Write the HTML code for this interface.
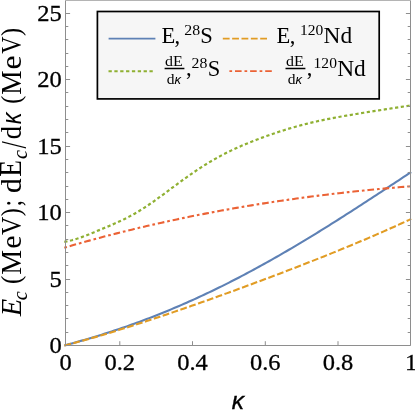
<!DOCTYPE html>
<html><head><meta charset="utf-8"><style>
html,body{margin:0;padding:0;background:#fff;}
body{width:415px;height:410px;overflow:hidden;position:relative;}
svg{position:absolute;left:0;top:0;display:block;will-change:transform;}
text{font-family:"Liberation Serif",serif;fill:#000;}
.sans{font-family:"Liberation Sans",sans-serif;}
</style></head><body>
<svg width="415" height="410" viewBox="0 0 415 410">
<rect x="0" y="0" width="415" height="410" fill="#fff"/>
<g fill="none" stroke-width="2.1" stroke-linecap="butt" stroke-linejoin="round">
<path d="M64.30 345.45 L66.80 344.78 L69.29 344.11 L71.79 343.43 L74.28 342.74 L76.78 342.04 L79.27 341.34 L81.77 340.63 L84.27 339.91 L86.76 339.18 L89.26 338.45 L91.75 337.70 L94.25 336.95 L96.74 336.19 L99.24 335.42 L101.74 334.64 L104.23 333.85 L106.73 333.06 L109.22 332.25 L111.72 331.44 L114.21 330.62 L116.71 329.78 L119.21 328.94 L121.70 328.09 L124.20 327.23 L126.69 326.37 L129.19 325.49 L131.68 324.60 L134.18 323.71 L136.67 322.80 L139.17 321.89 L141.67 320.96 L144.16 320.03 L146.66 319.09 L149.15 318.13 L151.65 317.17 L154.14 316.20 L156.64 315.22 L159.14 314.23 L161.63 313.23 L164.13 312.22 L166.62 311.20 L169.12 310.17 L171.61 309.13 L174.11 308.08 L176.61 307.02 L179.10 305.95 L181.60 304.87 L184.09 303.79 L186.59 302.69 L189.08 301.58 L191.58 300.47 L194.08 299.34 L196.57 298.20 L199.07 297.06 L201.56 295.90 L204.06 294.74 L206.55 293.56 L209.05 292.38 L211.55 291.19 L214.04 289.99 L216.54 288.77 L219.03 287.55 L221.53 286.32 L224.02 285.08 L226.52 283.83 L229.02 282.57 L231.51 281.31 L234.01 280.03 L236.50 278.74 L239.00 277.45 L241.49 276.15 L243.99 274.83 L246.48 273.51 L248.98 272.18 L251.48 270.84 L253.97 269.50 L256.47 268.14 L258.96 266.78 L261.46 265.40 L263.95 264.02 L266.45 262.63 L268.95 261.24 L271.44 259.83 L273.94 258.42 L276.43 257.00 L278.93 255.57 L281.42 254.13 L283.92 252.69 L286.42 251.24 L288.91 249.78 L291.41 248.31 L293.90 246.84 L296.40 245.36 L298.89 243.87 L301.39 242.38 L303.89 240.88 L306.38 239.37 L308.88 237.86 L311.37 236.34 L313.87 234.81 L316.36 233.28 L318.86 231.74 L321.36 230.20 L323.85 228.65 L326.35 227.09 L328.84 225.53 L331.34 223.96 L333.83 222.39 L336.33 220.82 L338.83 219.24 L341.32 217.65 L343.82 216.06 L346.31 214.47 L348.81 212.87 L351.30 211.26 L353.80 209.66 L356.29 208.05 L358.79 206.43 L361.29 204.82 L363.78 203.20 L366.28 201.57 L368.77 199.95 L371.27 198.32 L373.76 196.69 L376.26 195.05 L378.76 193.42 L381.25 191.78 L383.75 190.14 L386.24 188.50 L388.74 186.86 L391.23 185.21 L393.73 183.57 L396.23 181.93 L398.72 180.28 L401.22 178.63 L403.71 176.99 L406.21 175.34 L408.70 173.70 L411.20 172.05" stroke="#5E81B5"/>
<path d="M64.30 345.60 L66.80 344.95 L69.29 344.29 L71.79 343.63 L74.28 342.96 L76.78 342.28 L79.27 341.60 L81.77 340.91 L84.27 340.21 L86.76 339.51 L89.26 338.80 L91.75 338.09 L94.25 337.37 L96.74 336.64 L99.24 335.91 L101.74 335.17 L104.23 334.43 L106.73 333.68 L109.22 332.93 L111.72 332.17 L114.21 331.41 L116.71 330.64 L119.21 329.87 L121.70 329.09 L124.20 328.31 L126.69 327.53 L129.19 326.74 L131.68 325.94 L134.18 325.14 L136.67 324.34 L139.17 323.53 L141.67 322.72 L144.16 321.91 L146.66 321.09 L149.15 320.27 L151.65 319.44 L154.14 318.62 L156.64 317.78 L159.14 316.95 L161.63 316.11 L164.13 315.27 L166.62 314.43 L169.12 313.58 L171.61 312.73 L174.11 311.87 L176.61 311.02 L179.10 310.16 L181.60 309.30 L184.09 308.43 L186.59 307.56 L189.08 306.70 L191.58 305.82 L194.08 304.95 L196.57 304.07 L199.07 303.19 L201.56 302.31 L204.06 301.43 L206.55 300.54 L209.05 299.65 L211.55 298.76 L214.04 297.87 L216.54 296.97 L219.03 296.07 L221.53 295.17 L224.02 294.27 L226.52 293.37 L229.02 292.46 L231.51 291.55 L234.01 290.64 L236.50 289.73 L239.00 288.81 L241.49 287.90 L243.99 286.98 L246.48 286.06 L248.98 285.14 L251.48 284.21 L253.97 283.28 L256.47 282.35 L258.96 281.42 L261.46 280.49 L263.95 279.55 L266.45 278.62 L268.95 277.68 L271.44 276.74 L273.94 275.79 L276.43 274.85 L278.93 273.90 L281.42 272.95 L283.92 271.99 L286.42 271.04 L288.91 270.08 L291.41 269.12 L293.90 268.16 L296.40 267.19 L298.89 266.22 L301.39 265.25 L303.89 264.28 L306.38 263.31 L308.88 262.33 L311.37 261.35 L313.87 260.36 L316.36 259.37 L318.86 258.38 L321.36 257.39 L323.85 256.40 L326.35 255.40 L328.84 254.39 L331.34 253.39 L333.83 252.38 L336.33 251.37 L338.83 250.35 L341.32 249.33 L343.82 248.31 L346.31 247.28 L348.81 246.25 L351.30 245.21 L353.80 244.17 L356.29 243.13 L358.79 242.08 L361.29 241.03 L363.78 239.97 L366.28 238.91 L368.77 237.85 L371.27 236.78 L373.76 235.70 L376.26 234.62 L378.76 233.54 L381.25 232.45 L383.75 231.35 L386.24 230.25 L388.74 229.15 L391.23 228.03 L393.73 226.92 L396.23 225.79 L398.72 224.66 L401.22 223.53 L403.71 222.38 L406.21 221.24 L408.70 220.08 L411.20 218.92" stroke="#E19C24" stroke-dasharray="6.8 2.55"/>
<path d="M64.30 241.82 L66.80 241.42 L69.29 240.90 L71.79 240.28 L74.28 239.58 L76.78 238.81 L79.27 237.97 L81.77 237.09 L84.27 236.16 L86.76 235.20 L89.26 234.22 L91.75 233.21 L94.25 232.19 L96.74 231.16 L99.24 230.13 L101.74 229.08 L104.23 228.03 L106.73 226.97 L109.22 225.91 L111.72 224.84 L114.21 223.75 L116.71 222.65 L119.21 221.52 L121.70 220.36 L124.20 219.16 L126.69 217.92 L129.19 216.64 L131.68 215.30 L134.18 213.92 L136.67 212.48 L139.17 210.99 L141.67 209.44 L144.16 207.85 L146.66 206.21 L149.15 204.52 L151.65 202.80 L154.14 201.04 L156.64 199.25 L159.14 197.45 L161.63 195.62 L164.13 193.78 L166.62 191.93 L169.12 190.08 L171.61 188.23 L174.11 186.38 L176.61 184.53 L179.10 182.70 L181.60 180.88 L184.09 179.08 L186.59 177.30 L189.08 175.54 L191.58 173.80 L194.08 172.09 L196.57 170.40 L199.07 168.75 L201.56 167.13 L204.06 165.54 L206.55 163.98 L209.05 162.46 L211.55 160.98 L214.04 159.53 L216.54 158.11 L219.03 156.74 L221.53 155.39 L224.02 154.09 L226.52 152.81 L229.02 151.58 L231.51 150.37 L234.01 149.20 L236.50 148.05 L239.00 146.94 L241.49 145.85 L243.99 144.78 L246.48 143.74 L248.98 142.72 L251.48 141.72 L253.97 140.74 L256.47 139.78 L258.96 138.83 L261.46 137.90 L263.95 136.99 L266.45 136.09 L268.95 135.20 L271.44 134.33 L273.94 133.47 L276.43 132.63 L278.93 131.81 L281.42 131.00 L283.92 130.20 L286.42 129.42 L288.91 128.66 L291.41 127.92 L293.90 127.20 L296.40 126.49 L298.89 125.80 L301.39 125.13 L303.89 124.48 L306.38 123.84 L308.88 123.22 L311.37 122.62 L313.87 122.03 L316.36 121.47 L318.86 120.91 L321.36 120.37 L323.85 119.85 L326.35 119.34 L328.84 118.84 L331.34 118.36 L333.83 117.88 L336.33 117.42 L338.83 116.96 L341.32 116.52 L343.82 116.08 L346.31 115.64 L348.81 115.22 L351.30 114.80 L353.80 114.38 L356.29 113.97 L358.79 113.56 L361.29 113.16 L363.78 112.75 L366.28 112.36 L368.77 111.96 L371.27 111.56 L373.76 111.17 L376.26 110.78 L378.76 110.39 L381.25 109.99 L383.75 109.60 L386.24 109.21 L388.74 108.83 L391.23 108.44 L393.73 108.05 L396.23 107.66 L398.72 107.27 L401.22 106.89 L403.71 106.50 L406.21 106.12 L408.70 105.73 L411.20 105.35" stroke="#8FB032" stroke-dasharray="3.2 2.54" stroke-width="2.2"/>
<path d="M64.30 247.72 L66.80 246.99 L69.29 246.26 L71.79 245.54 L74.28 244.83 L76.78 244.12 L79.27 243.41 L81.77 242.71 L84.27 242.01 L86.76 241.32 L89.26 240.63 L91.75 239.95 L94.25 239.27 L96.74 238.60 L99.24 237.93 L101.74 237.27 L104.23 236.61 L106.73 235.95 L109.22 235.30 L111.72 234.66 L114.21 234.02 L116.71 233.38 L119.21 232.75 L121.70 232.12 L124.20 231.50 L126.69 230.88 L129.19 230.26 L131.68 229.65 L134.18 229.05 L136.67 228.45 L139.17 227.85 L141.67 227.26 L144.16 226.67 L146.66 226.09 L149.15 225.51 L151.65 224.94 L154.14 224.37 L156.64 223.80 L159.14 223.24 L161.63 222.68 L164.13 222.13 L166.62 221.58 L169.12 221.04 L171.61 220.50 L174.11 219.96 L176.61 219.43 L179.10 218.90 L181.60 218.38 L184.09 217.86 L186.59 217.34 L189.08 216.83 L191.58 216.33 L194.08 215.82 L196.57 215.32 L199.07 214.83 L201.56 214.34 L204.06 213.85 L206.55 213.37 L209.05 212.89 L211.55 212.42 L214.04 211.95 L216.54 211.48 L219.03 211.02 L221.53 210.56 L224.02 210.11 L226.52 209.66 L229.02 209.21 L231.51 208.77 L234.01 208.33 L236.50 207.89 L239.00 207.46 L241.49 207.04 L243.99 206.61 L246.48 206.19 L248.98 205.78 L251.48 205.37 L253.97 204.96 L256.47 204.55 L258.96 204.15 L261.46 203.76 L263.95 203.36 L266.45 202.97 L268.95 202.59 L271.44 202.20 L273.94 201.83 L276.43 201.45 L278.93 201.08 L281.42 200.71 L283.92 200.35 L286.42 199.99 L288.91 199.63 L291.41 199.28 L293.90 198.93 L296.40 198.58 L298.89 198.24 L301.39 197.90 L303.89 197.57 L306.38 197.23 L308.88 196.91 L311.37 196.58 L313.87 196.26 L316.36 195.94 L318.86 195.63 L321.36 195.31 L323.85 195.01 L326.35 194.70 L328.84 194.40 L331.34 194.10 L333.83 193.81 L336.33 193.52 L338.83 193.23 L341.32 192.94 L343.82 192.66 L346.31 192.38 L348.81 192.11 L351.30 191.84 L353.80 191.57 L356.29 191.30 L358.79 191.04 L361.29 190.78 L363.78 190.53 L366.28 190.27 L368.77 190.03 L371.27 189.78 L373.76 189.54 L376.26 189.30 L378.76 189.06 L381.25 188.82 L383.75 188.59 L386.24 188.37 L388.74 188.14 L391.23 187.92 L393.73 187.70 L396.23 187.48 L398.72 187.27 L401.22 187.06 L403.71 186.85 L406.21 186.65 L408.70 186.45 L411.20 186.25" stroke="#EB6235" stroke-dasharray="2.7 2.9 6.65 2.92"/>
</g>
<g fill="none" stroke="#8e8e8e" stroke-width="1">
<path d="M65.5 0.5V345.5H410.5V0.5"/><path d="M65.0 0.5H411.0" stroke="#b4b4b4"/>
<path d="M65.50 345.50h4.6 M410.50 345.50h-4.6 M65.50 332.50h2.8 M410.50 332.50h-2.8 M65.50 318.50h2.8 M410.50 318.50h-2.8 M65.50 305.50h2.8 M410.50 305.50h-2.8 M65.50 292.50h2.8 M410.50 292.50h-2.8 M65.50 279.50h4.6 M410.50 279.50h-4.6 M65.50 265.50h2.8 M410.50 265.50h-2.8 M65.50 252.50h2.8 M410.50 252.50h-2.8 M65.50 239.50h2.8 M410.50 239.50h-2.8 M65.50 225.50h2.8 M410.50 225.50h-2.8 M65.50 212.50h4.6 M410.50 212.50h-4.6 M65.50 199.50h2.8 M410.50 199.50h-2.8 M65.50 186.50h2.8 M410.50 186.50h-2.8 M65.50 172.50h2.8 M410.50 172.50h-2.8 M65.50 159.50h2.8 M410.50 159.50h-2.8 M65.50 146.50h4.6 M410.50 146.50h-4.6 M65.50 132.50h2.8 M410.50 132.50h-2.8 M65.50 119.50h2.8 M410.50 119.50h-2.8 M65.50 106.50h2.8 M410.50 106.50h-2.8 M65.50 92.50h2.8 M410.50 92.50h-2.8 M65.50 79.50h4.6 M410.50 79.50h-4.6 M65.50 66.50h2.8 M410.50 66.50h-2.8 M65.50 53.50h2.8 M410.50 53.50h-2.8 M65.50 39.50h2.8 M410.50 39.50h-2.8 M65.50 26.50h2.8 M410.50 26.50h-2.8 M65.50 13.50h4.6 M410.50 13.50h-4.6 M119.80 345.50v-4.3 M192.50 345.50v-4.3 M265.30 345.50v-4.3 M338.00 345.50v-4.3"/>
</g>
<g font-size="24" text-anchor="end" stroke="#000" stroke-width="0.3">
<text transform="translate(61.8,353.3) scale(1.02,1.005)">0</text><text transform="translate(61.8,287.3) scale(1.02,1.005)">5</text><text transform="translate(61.8,220.3) scale(1.02,1.005)">10</text><text transform="translate(61.8,154.3) scale(1.02,1.005)">15</text><text transform="translate(61.8,87.3) scale(1.02,1.005)">20</text><text transform="translate(61.8,21.3) scale(1.02,1.005)">25</text>
</g>
<g font-size="24" text-anchor="middle" stroke="#000" stroke-width="0.3">
<text transform="translate(65.5,370.3) scale(1.02,1.0)">0</text><text transform="translate(119.8,370.3) scale(1.02,1.0)">0.2</text><text transform="translate(192.5,370.3) scale(1.02,1.0)">0.4</text><text transform="translate(265.3,370.3) scale(1.02,1.0)">0.6</text><text transform="translate(338.0,370.3) scale(1.02,1.0)">0.8</text><text transform="translate(411.2,370.3) scale(1.02,1.0)">1</text>
</g>
<text x="237.8" y="409.2" font-size="24.5" text-anchor="middle" font-style="italic" class="sans" stroke="#000" stroke-width="0.35">κ</text>
<g transform="translate(21.3,317.4) rotate(-90)">
<text transform="translate(1.15,0) scale(0.934,1)" font-size="30.5" font-style="italic">E</text>
<text transform="translate(17.08,6.0) scale(0.948,1)" font-size="21.5" font-style="italic">c</text>
<text transform="translate(33.42,-1.4) scale(0.830,0.9)" font-size="30">(</text>
<text transform="translate(42.56,0) scale(0.935,1)" font-size="30">M</text>
<text transform="translate(68.66,0) scale(1.007,0.99)" font-size="30">e</text>
<text transform="translate(82.40,0) scale(0.849,0.97)" font-size="30">V</text>
<text transform="translate(101.15,-1.4) scale(0.800,0.9)" font-size="30">)</text>
<text transform="translate(110.88,0) scale(0.800,1)" font-size="30">;</text>
<text transform="translate(124.28,0) scale(0.981,1)" font-size="30">d</text>
<text transform="translate(140.67,0) scale(0.908,1.02)" font-size="30">E</text>
<text transform="translate(158.48,6.0) scale(0.948,1)" font-size="21.5" font-style="italic">c</text>
<text transform="translate(168.80,4.4) scale(0.877,1.2)" font-size="30">/</text>
<text transform="translate(178.17,0) scale(0.882,1)" font-size="30">d</text>
<text transform="translate(193.14,0) scale(0.898,1.04)" font-size="26" font-style="italic" class="sans">κ</text>
<text transform="translate(213.65,-1.4) scale(0.800,0.9)" font-size="30">(</text>
<text transform="translate(222.77,0) scale(0.915,1)" font-size="30">M</text>
<text transform="translate(248.01,0) scale(1.058,0.99)" font-size="30">e</text>
<text transform="translate(263.70,0) scale(0.800,0.97)" font-size="30">V</text>
<text transform="translate(281.44,-1.4) scale(0.816,0.9)" font-size="30">)</text>
</g>
<!-- legend -->
<rect x="97.4" y="11.5" width="281.8" height="87.4" fill="#f6f6f6" stroke="#000" stroke-width="1.7"/>
<g fill="none" stroke-width="1.9">
<path d="M108.6 38.6H155.4" stroke="#5E81B5"/>
<path d="M108.5 71.2H153" stroke="#8FB032" stroke-dasharray="3.3 2.55" stroke-width="2"/>
<path d="M222.8 38.6H267.2" stroke="#E19C24" stroke-dasharray="6.8 2.55"/>
<path d="M229.4 71.1H272.4" stroke="#EB6235" stroke-dasharray="2.7 2.9 6.6 2.9"/>
</g>
<g font-size="22.5">
<text x="161.5" y="43.3" letter-spacing="-0.7">E,</text><text x="184.3" y="35.4" font-size="15" textLength="15.8" lengthAdjust="spacingAndGlyphs">28</text><text x="200.3" y="43.3">S</text>
<text x="276.6" y="43.3" letter-spacing="-0.7">E,</text><text x="300" y="35.4" font-size="15" textLength="23.3" lengthAdjust="spacingAndGlyphs">120</text><text x="323.6" y="43.3" textLength="28.6" lengthAdjust="spacingAndGlyphs">Nd</text>
<text x="185.9" y="75.3">,</text><text x="191.6" y="67.9" font-size="15" textLength="15.8" lengthAdjust="spacingAndGlyphs">28</text><text x="207.8" y="75.8">S</text>
<text x="306.8" y="75.3">,</text><text x="313.6" y="67.9" font-size="15" textLength="23.3" lengthAdjust="spacingAndGlyphs">120</text><text x="337.2" y="75.8" textLength="28.6" lengthAdjust="spacingAndGlyphs">Nd</text>
</g>
<g font-size="15.5">
<text x="165.1" y="66.4" textLength="17.7" lengthAdjust="spacingAndGlyphs">dE</text><text x="173.9" y="83.5" text-anchor="middle">d<tspan font-style="italic" style="font-family:'Liberation Sans',sans-serif" font-size="13">κ</tspan></text>
<path d="M164.6 68.5H184.4" stroke="#000" stroke-width="1.5"/>
<text x="286" y="66.4" textLength="17.7" lengthAdjust="spacingAndGlyphs">dE</text><text x="294.9" y="83.5" text-anchor="middle">d<tspan font-style="italic" style="font-family:'Liberation Sans',sans-serif" font-size="13">κ</tspan></text>
<path d="M285.5 68.5H305.4" stroke="#000" stroke-width="1.5"/>
</g>
</svg>
</body></html>
